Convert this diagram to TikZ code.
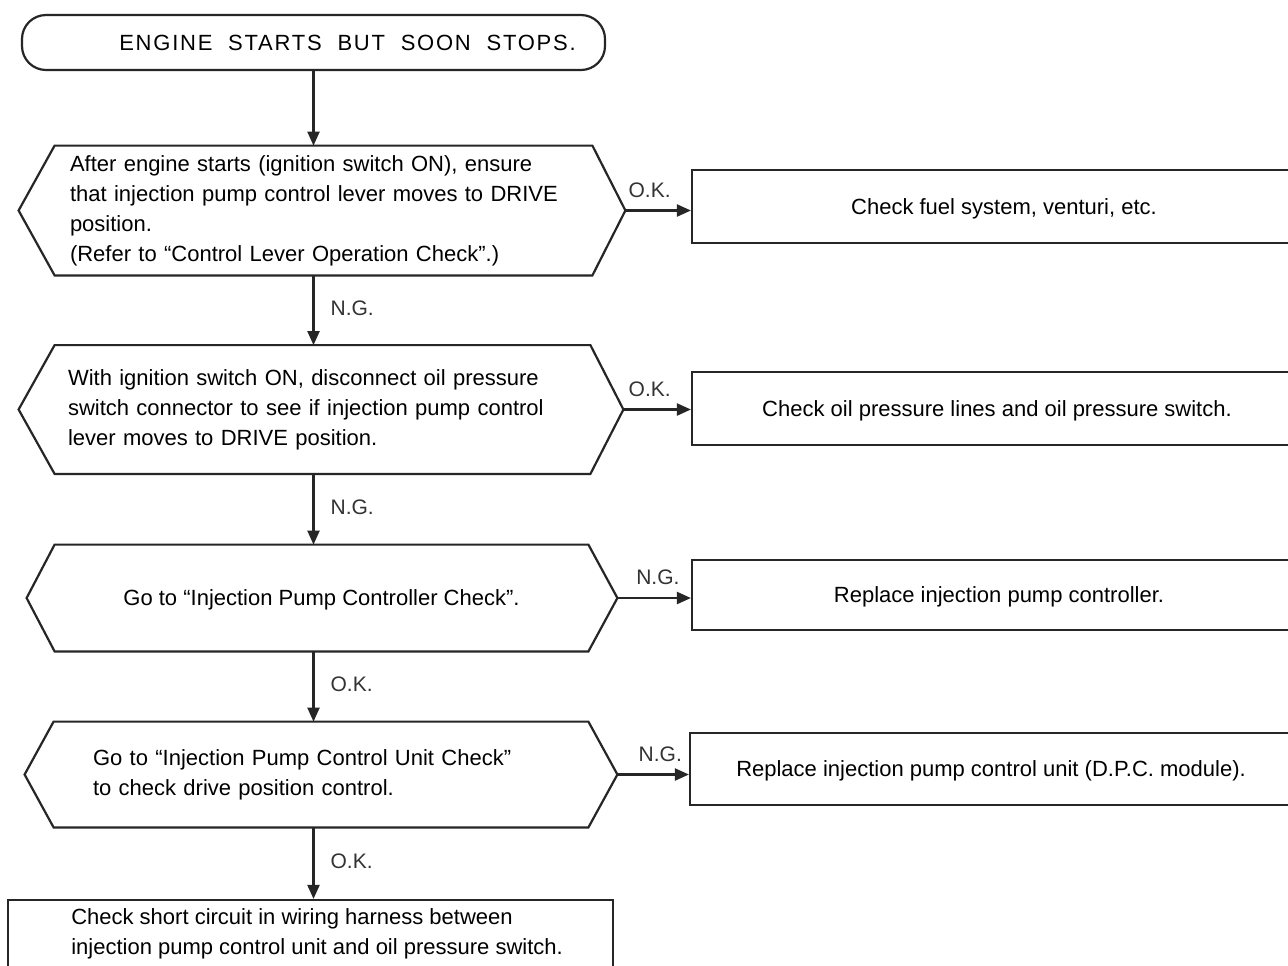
\documentclass[tikz,border=0pt]{standalone}
\usepackage{fontspec}
\setmainfont{Liberation Sans}
\newfontfamily\titlefont[LetterSpace=8,WordSpace=2]{Liberation Sans}
\usetikzlibrary{arrows.meta,calc}
\newcommand\hexout[3]{%
  \coordinate (#1-l) at ($(#1.west)-(#2,0)$);
  \coordinate (#1-r) at ($(#1.east)+(#3,0)$);
  \draw[line] (#1.north west) -- (#1.north east) -- (#1-r) -- (#1.south east)
     -- (#1.south west) -- (#1-l) -- cycle;}
\begin{document}
\begin{tikzpicture}[x=0.5pt,y=-0.5pt,
  line/.style={draw=black!85, line width=1.1pt, line join=miter},
  arr/.style={draw=black!85, line width=1.1pt, -{Triangle[length=7pt,width=6pt]}},
  body/.style={font=\fontsize{11}{15}\selectfont, text=black},
  hexn/.style={body, inner ysep=0pt, align=left},
  boxn/.style={line, body, inner sep=0pt, align=center, text depth=0pt},
  lab/.style={font=\fontsize{10.5}{12}\selectfont, text=black!80, inner sep=0pt},
  vlab/.style={lab, anchor=west, xshift=8pt, yshift=1pt},
  hlab/.style={lab, anchor=south, yshift=6pt},
]
\clip (0,0) rectangle (1288,965);
\fill[white] (0,0) rectangle (1288,965);

% start terminal
\node[line, rounded corners=12pt, minimum width=291.5pt, minimum height=27.5pt, inner sep=0pt,
  label={[font=\titlefont\fontsize{11}{13}\selectfont, xshift=17pt, inner sep=0pt]center:{ENGINE STARTS BUT SOON STOPS.}}]
  (start) at (313.5,42.5) {};

% decision hexagons
\node[hexn, inner xsep=7.5pt, text width=253.5pt, minimum height=64.5pt] (h1) at (323.5,210.5)
  {After engine starts (ignition switch ON), ensure\\that injection pump control lever moves to DRIVE\\position.\\(Refer to “Control Lever Operation Check”.)};
\hexout{h1}{36}{33}

\node[hexn, inner xsep=6.5pt, text width=254.5pt, minimum height=64pt] (h2) at (322.5,409.5)
  {With ignition switch ON, disconnect oil pressure\\switch connector to see if injection pump control\\lever moves to DRIVE position.};
\hexout{h2}{36}{33}

\node[body, inner sep=0pt, minimum width=266.5pt, minimum height=53pt, text depth=0pt] (h3) at (321.5,598)
  {Go to “Injection Pump Controller Check”.};
\hexout{h3}{28}{29}

\node[hexn, inner xsep=19.5pt, text width=228pt, minimum height=52.5pt] (h4) at (321,774.5)
  {Go to “Injection Pump Control Unit Check”\\to check drive position control.};
\hexout{h4}{29}{29}

% result boxes
\node[boxn, minimum width=312pt, minimum height=36.5pt] (b1) at (1004,206.5) {Check fuel system, venturi, etc.};
\node[boxn, minimum width=305pt, minimum height=36.5pt] (b2) at (997,408.5) {Check oil pressure lines and oil pressure switch.};
\node[boxn, minimum width=307pt, minimum height=35pt] (b3) at (999,595) {Replace injection pump controller.};
\node[boxn, minimum width=301pt, minimum height=36pt] (b4) at (991,769) {Replace injection pump control unit (D.P.C. module).};

\node[line, inner sep=0pt, minimum width=302.5pt, minimum height=34pt,
  label={[body, align=left, anchor=west, xshift=32pt, inner sep=0pt]west:{Check short circuit in wiring harness between\\injection pump control unit and oil pressure switch.}}]
  (final) at (310.5,934) {};

% vertical connectors
\draw[arr] (start.south) -- (start.south |- h1.north);
\draw[arr] (h1.south -| start.south) -- node[vlab]{N.G.} (h2.north -| start.south);
\draw[arr] (h2.south -| start.south) -- node[vlab]{N.G.} (h3.north -| start.south);
\draw[arr] (h3.south -| start.south) -- node[vlab]{O.K.} (h4.north -| start.south);
\draw[arr] (h4.south -| start.south) -- node[vlab]{O.K.} (final.north -| start.south);

% horizontal connectors
\draw[arr] (h1-r) -- node[hlab, pos=.37]{O.K.} (h1-r -| b1.west);
\draw[arr] (h2-r) -- node[hlab, pos=.39]{O.K.} (h2-r -| b2.west);
\draw[arr] (h3-r) -- node[hlab, pos=.55]{N.G.} (h3-r -| b3.west);
\draw[arr] (h4-r) -- node[hlab, pos=.6]{N.G.} (h4-r -| b4.west);
\end{tikzpicture}
\end{document}
